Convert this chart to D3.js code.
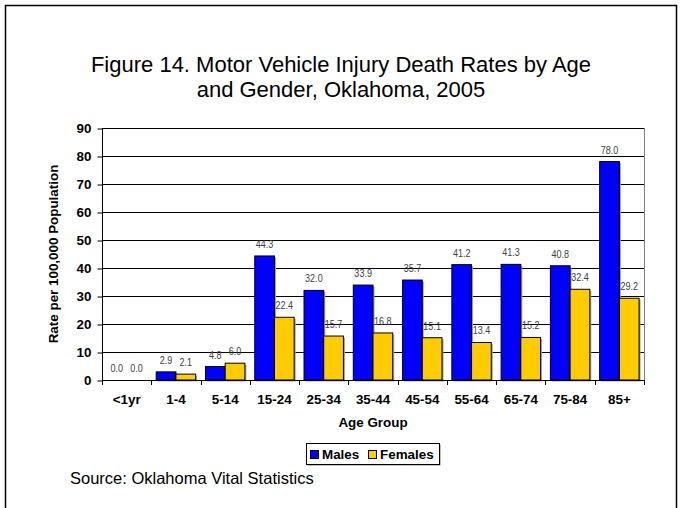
<!DOCTYPE html>
<html>
<head>
<meta charset="utf-8">
<script src="https://cdn.jsdelivr.net/npm/d3@7"></script>
<style>
  body { margin: 0; background: #fff; }
  svg { display: block; font-family: "Liberation Sans", Arial, sans-serif; }
  .axis path { display: none; }
  .axis text { font-weight: bold; font-size: 13.4px; fill: #000; }
  .val { font-size: 11px; fill: #404040; }
</style>
</head>
<body>
<div id="root"></div>
<script>
const WIDTH = 682;
const HEIGHT = 508;
const plot = { left: 102, right: 644, top: 128, bottom: 380 };

const ageGroups = ['<1yr', '1-4', '5-14', '15-24', '25-34', '35-44', '45-54', '55-64', '65-74', '75-84', '85+'];
const males = [0.0, 2.9, 4.8, 44.3, 32.0, 33.9, 35.7, 41.2, 41.3, 40.8, 78.0];
const females = [0.0, 2.1, 6.0, 22.4, 15.7, 16.8, 15.1, 13.4, 15.2, 32.4, 29.2];
const seriesNames = ['Males', 'Females'];
const seriesColors = ['#0000ff', '#ffcc00'];
const yTicks = [0, 10, 20, 30, 40, 50, 60, 70, 80, 90];

const svg = d3.select('#root').append('svg')
    .attr('width', WIDTH)
    .attr('height', HEIGHT);

// outer frame
svg.append('rect')
    .attr('x', 5.5).attr('y', 5.5)
    .attr('width', 671).attr('height', 510)
    .attr('fill', 'none').attr('stroke', '#000').attr('stroke-width', 1.5);

// title
svg.append('text')
    .attr('x', 341).attr('y', 72)
    .attr('text-anchor', 'middle')
    .style('font-size', '22px')
    .text('Figure 14. Motor Vehicle Injury Death Rates by Age');
svg.append('text')
    .attr('x', 341).attr('y', 97)
    .attr('text-anchor', 'middle')
    .style('font-size', '22px')
    .text('and Gender, Oklahoma, 2005');

const x = d3.scaleBand().domain(ageGroups).range([plot.left, plot.right]);
const xs = d3.scaleBand().domain(seriesNames).range([0, x.bandwidth()]).paddingOuter(0.25);
const y = d3.scaleLinear().domain([0, 90]).range([plot.bottom, plot.top]);
const color = d3.scaleOrdinal(seriesNames, seriesColors);

// gridlines
svg.append('g')
    .selectAll('line')
    .data(yTicks.slice(1))
    .enter().append('line')
        .attr('x1', plot.left).attr('x2', plot.right)
        .attr('y1', d => Math.round(y(d)) + 0.5)
        .attr('y2', d => Math.round(y(d)) + 0.5)
        .attr('stroke', '#000');

// right border of plot area
svg.append('line')
    .attr('x1', plot.right + 0.5).attr('x2', plot.right + 0.5)
    .attr('y1', plot.top).attr('y2', plot.bottom)
    .attr('stroke', '#808080');

const rows = ageGroups.map((g, i) => ({ group: g, values: [males[i], females[i]] }));

const groups = svg.append('g').selectAll('.grp')
    .data(rows)
    .enter().append('g')
        .attr('class', 'grp')
        .attr('transform', d => `translate(${x(d.group)}, 0)`);

const bars = groups.selectAll('.bar')
    .data(d => d.values.map((v, i) => ({ name: seriesNames[i], value: v })))
    .enter();

// shadow
bars.filter(d => d.value > 0).append('rect')
    .attr('x', d => xs(d.name) + 1.5)
    .attr('y', d => y(d.value) + 1.5)
    .attr('width', xs.bandwidth())
    .attr('height', d => plot.bottom - y(d.value))
    .attr('fill', '#a0a0a0');

bars.filter(d => d.value > 0).append('rect')
    .attr('x', d => xs(d.name))
    .attr('y', d => y(d.value))
    .attr('width', xs.bandwidth())
    .attr('height', d => plot.bottom - y(d.value))
    .attr('fill', d => color(d.name))
    .attr('stroke', '#000')
    .attr('stroke-width', 1);

// value labels, squeezed to look like a narrow face
groups.selectAll('.val')
    .data(d => d.values.map((v, i) => ({ name: seriesNames[i], value: v })))
    .enter().append('text')
        .attr('class', 'val')
        .attr('transform', d => `translate(${xs(d.name) + xs.bandwidth() / 2}, ${y(d.value) - 8}) scale(0.82, 1)`)
        .attr('text-anchor', 'middle')
        .text(d => d.value.toFixed(1));

// axes
const xAxis = d3.axisBottom(x).tickSize(0).tickPadding(14);
svg.append('g')
    .attr('class', 'axis axis--x')
    .attr('transform', `translate(0, ${plot.bottom})`)
    .call(xAxis);

// x tick marks between categories
svg.append('g')
    .selectAll('line')
    .data(ageGroups.concat(['end']))
    .enter().append('line')
        .attr('x1', (d, i) => Math.round(plot.left + i * x.step()) + 0.5)
        .attr('x2', (d, i) => Math.round(plot.left + i * x.step()) + 0.5)
        .attr('y1', plot.bottom)
        .attr('y2', plot.bottom + 5)
        .attr('stroke', '#000');

svg.append('line')
    .attr('x1', plot.left).attr('x2', plot.right + 1)
    .attr('y1', plot.bottom + 0.5).attr('y2', plot.bottom + 0.5)
    .attr('stroke', '#000');

const yAxis = d3.axisLeft(y).tickValues(yTicks).tickSize(5).tickPadding(6);
svg.append('g')
    .attr('class', 'axis axis--y')
    .attr('transform', `translate(${plot.left + 0.5}, 0.5)`)
    .call(yAxis);

svg.append('line')
    .attr('x1', plot.left + 0.5).attr('x2', plot.left + 0.5)
    .attr('y1', plot.top).attr('y2', plot.bottom + 5)
    .attr('stroke', '#000');

// axis titles
svg.append('text')
    .attr('transform', `translate(58, ${(plot.top + plot.bottom) / 2}) rotate(-90)`)
    .attr('text-anchor', 'middle')
    .style('font-weight', 'bold')
    .style('font-size', '13.4px')
    .text('Rate per 100,000 Population');

svg.append('text')
    .attr('x', (plot.left + plot.right) / 2)
    .attr('y', 427)
    .attr('text-anchor', 'middle')
    .style('font-weight', 'bold')
    .style('font-size', '13.4px')
    .text('Age Group');

// legend
const legend = svg.append('g').attr('transform', 'translate(306, 443)');
legend.append('rect')
    .attr('x', 1.5).attr('y', 1.5)
    .attr('width', 133).attr('height', 21)
    .attr('fill', '#808080');
legend.append('rect')
    .attr('x', 0.5).attr('y', 0.5)
    .attr('width', 133).attr('height', 21)
    .attr('fill', '#fff').attr('stroke', '#000');

const legendX = [4, 62];
const item = legend.selectAll('.item')
    .data(seriesNames)
    .enter().append('g')
        .attr('class', 'item')
        .attr('transform', (d, i) => `translate(${legendX[i]}, 0)`);
item.append('rect')
    .attr('x', 0.5).attr('y', 7.5)
    .attr('width', 8).attr('height', 8)
    .attr('fill', color)
    .attr('stroke', '#000');
item.append('text')
    .attr('x', 12)
    .attr('y', 16)
    .style('font-weight', 'bold')
    .style('font-size', '13.4px')
    .text(d => d);

// source
svg.append('text')
    .attr('x', 70).attr('y', 484)
    .style('font-size', '16.5px')
    .text('Source: Oklahoma Vital Statistics');
</script>
</body>
</html>
